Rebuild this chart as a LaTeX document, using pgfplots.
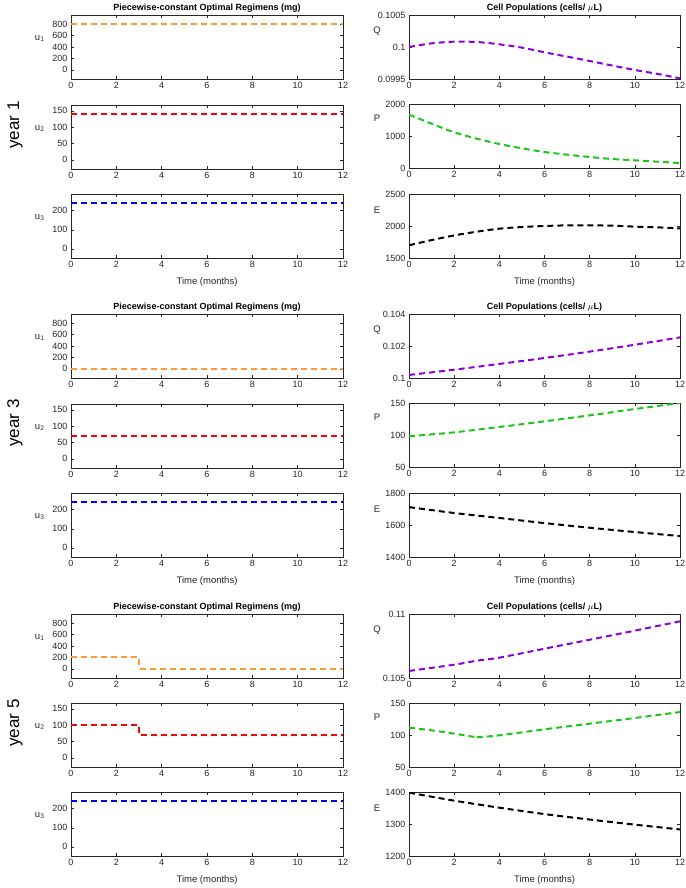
\documentclass[border=0pt]{standalone}
\usepackage{pgfplots}
\pgfplotsset{compat=1.18}
\usepackage{fontspec}
\setmainfont{Liberation Sans}
\definecolor{cOrange}{rgb}{1,0.6,0.2}
\definecolor{cRed}{rgb}{1,0,0}
\definecolor{cBlue}{rgb}{0,0,1}
\definecolor{cPurple}{rgb}{0.55,0,0.88}
\definecolor{cGreen}{rgb}{0.1,0.78,0.1}
\definecolor{cAx}{rgb}{0.15,0.15,0.15}
\pgfplotsset{
  base/.style={
    scale only axis, width=272pt, height=64pt, anchor=north west,
    xmin=0, xmax=12, xtick={0,2,4,6,8,10,12},
    tick align=inside, major tick length=3pt,
    axis line style={cAx, line width=0.7pt},
    every tick/.style={cAx, line width=0.6pt},
    tick label style={font=\fontsize{9}{10}\selectfont, text=cAx},
    /pgf/number format/assume math mode=true,
    scaled ticks=false,
    every axis y label/.style={at={(rel axis cs:-0.115,0.63)},anchor=center, font=\fontsize{9.5}{10}\selectfont, text=cAx},
    xlabel style={font=\fontsize{9.5}{10}\selectfont, text=cAx, yshift=-3pt},
    title style={font=\bfseries\fontsize{9}{10}\selectfont, text=black, yshift=-7pt},
    clip=true,
  },
  dl/.style={line width=2pt, dash pattern=on 6pt off 4pt},
  U1/.style={ymin=-160, ymax=960, ytick={0,200,400,600,800}, yticklabels={0,200,400,600,800}, ylabel={u\textsubscript{1}}},
  U2/.style={ymin=-28, ymax=168, ytick={0,50,100,150}, yticklabels={0,50,100,150}, ylabel={u\textsubscript{2}}},
  U3/.style={ymin=-48, ymax=288, ytick={0,100,200}, yticklabels={0,100,200}, ylabel={u\textsubscript{3}}},
}
\newcommand{\yearlabel}[2]{\node[rotate=90, font=\fontsize{17}{18}\selectfont, text=black] at (15pt,#1) {year #2};}
\begin{document}
\begin{tikzpicture}
\useasboundingbox (0,0) rectangle (685pt,-888pt);
% ================= YEAR 1 =================
\yearlabel{-125pt}{1}
\begin{axis}[base, U1, at={(71pt,-15pt)}, title={Piecewise-constant Optimal Regimens (mg)}]
\addplot[dl, cOrange] coordinates {(0,800)(12,800)};
\end{axis}
\begin{axis}[base, U2, at={(71pt,-105pt)}]
\addplot[dl, cRed] coordinates {(0,140)(12,140)};
\end{axis}
\begin{axis}[base, U3, at={(71pt,-194pt)}, xlabel={Time (months)}]
\addplot[dl, cBlue] coordinates {(0,240)(12,240)};
\end{axis}
\begin{axis}[base, at={(409pt,-15pt)}, width=271pt, ymin=0.0995, ymax=0.1005, ytick={0.0995,0.1,0.1005}, yticklabels={0.0995,0.1,0.1005}, ylabel={Q}, every axis y label/.append style={at={(rel axis cs:-0.118,0.75)}}, title={Cell Populations (cells/ $\mu$L)}]
\addplot[dl, cPurple, smooth] coordinates {(0,0.100000)(1,0.100057)(2,0.100083)(3,0.100078)(4,0.100042)(5,0.099990)(6,0.099917)(7,0.099850)(8,0.099781)(9,0.099710)(10,0.099641)(11,0.099580)(12,0.099510)};
\end{axis}
\begin{axis}[base, at={(409pt,-104pt)}, width=271pt, ymin=0, ymax=2000, ytick={0,1000,2000}, yticklabels={0,1000,2000}, ylabel={P}, every axis y label/.append style={at={(rel axis cs:-0.118,0.78)}}]
\addplot[dl, cGreen, smooth] coordinates {(0,1667)(1,1385)(2,1115)(3,917)(4,750)(5,615)(6,500)(7,417)(8,344)(9,281)(10,240)(11,198)(12,156)};
\end{axis}
\begin{axis}[base, at={(409pt,-194pt)}, width=271pt, ymin=1500, ymax=2500, ytick={1500,2000,2500}, yticklabels={1500,2000,2500}, ylabel={E}, every axis y label/.append style={at={(rel axis cs:-0.118,0.75)}}, xlabel={Time (months)}]
\addplot[dl, black, smooth] coordinates {(0,1699)(1,1780)(2,1853)(3,1911)(4,1958)(5,1984)(6,2000)(7,2010)(8,2010)(9,2005)(10,1990)(11,1979)(12,1963)};
\end{axis}
% ================= YEAR 3 =================
\yearlabel{-423pt}{3}
\begin{axis}[base, U1, at={(71pt,-314pt)}, title={Piecewise-constant Optimal Regimens (mg)}]
\addplot[dl, cOrange] coordinates {(0,0)(12,0)};
\end{axis}
\begin{axis}[base, U2, at={(71pt,-404pt)}]
\addplot[dl, cRed] coordinates {(0,70)(12,70)};
\end{axis}
\begin{axis}[base, U3, at={(71pt,-493pt)}, xlabel={Time (months)}]
\addplot[dl, cBlue] coordinates {(0,240)(12,240)};
\end{axis}
\begin{axis}[base, at={(409pt,-314pt)}, width=271pt, ymin=0.1, ymax=0.104, ytick={0.1,0.102,0.104}, yticklabels={0.1,0.102,0.104}, ylabel={Q}, every axis y label/.append style={at={(rel axis cs:-0.118,0.75)}}, title={Cell Populations (cells/ $\mu$L)}]
\addplot[dl, cPurple, smooth] coordinates {(0,0.10019)(2,0.10052)(4,0.10088)(6,0.10125)(8,0.10165)(10,0.10208)(12,0.10254)};
\end{axis}
\begin{axis}[base, at={(409pt,-403pt)}, width=271pt, ymin=50, ymax=150, ytick={50,100,150}, yticklabels={50,100,150}, ylabel={P}, every axis y label/.append style={at={(rel axis cs:-0.118,0.78)}}]
\addplot[dl, cGreen, smooth] coordinates {(0,97.9)(2,104.2)(4,112.5)(6,121.4)(8,130.7)(10,140.6)(12,150)};
\end{axis}
\begin{axis}[base, at={(409pt,-493pt)}, width=271pt, ymin=1400, ymax=1800, ytick={1400,1600,1800}, yticklabels={1400,1600,1800}, ylabel={E}, every axis y label/.append style={at={(rel axis cs:-0.118,0.75)}}, xlabel={Time (months)}]
\addplot[dl, black, smooth] coordinates {(0,1712)(2,1675)(4,1644)(6,1612)(8,1583)(10,1556)(12,1531)};
\end{axis}
% ================= YEAR 5 =================
\yearlabel{-723pt}{5}
\begin{axis}[base, U1, at={(71pt,-614pt)}, title={Piecewise-constant Optimal Regimens (mg)}]
\addplot[dl, cOrange] coordinates {(0,200)(3,200)(3,0)(12,0)};
\end{axis}
\begin{axis}[base, U2, at={(71pt,-703pt)}]
\addplot[dl, cRed] coordinates {(0,100)(3,100)(3,70)(12,70)};
\end{axis}
\begin{axis}[base, U3, at={(71pt,-792pt)}, xlabel={Time (months)}]
\addplot[dl, cBlue] coordinates {(0,240)(12,240)};
\end{axis}
\begin{axis}[base, at={(409pt,-614pt)}, width=271pt, ymin=0.105, ymax=0.11, ytick={0.105,0.11}, yticklabels={0.105,0.11}, ylabel={Q}, every axis y label/.append style={at={(rel axis cs:-0.118,0.75)}}, title={Cell Populations (cells/ $\mu$L)}]
\addplot[dl, cPurple, smooth] coordinates {(0,0.10555)(2,0.10604)(3,0.10635)(4,0.10659)(6,0.10729)(8,0.10799)(10,0.10870)(12,0.10943)};
\end{axis}
\begin{axis}[base, at={(409pt,-703pt)}, width=271pt, ymin=50, ymax=150, ytick={50,100,150}, yticklabels={50,100,150}, ylabel={P}, every axis y label/.append style={at={(rel axis cs:-0.118,0.78)}}]
\addplot[dl, cGreen, smooth] coordinates {(0,111.5)(1,107.3)(2,102.1)(3,96.4)};
\addplot[dl, cGreen, smooth] coordinates {(3,96.4)(4,99.5)(6,108.9)(8,117.7)(10,126.6)(12,135.9)};
\end{axis}
\begin{axis}[base, at={(409pt,-792pt)}, width=271pt, ymin=1200, ymax=1400, ytick={1200,1300,1400}, yticklabels={1200,1300,1400}, ylabel={E}, every axis y label/.append style={at={(rel axis cs:-0.118,0.75)}}, xlabel={Time (months)}]
\addplot[dl, black, smooth] coordinates {(0,1398)(2,1373)(4,1351)(6,1331)(8,1314)(10,1298)(12,1283)};
\end{axis}
\end{tikzpicture}
\end{document}
